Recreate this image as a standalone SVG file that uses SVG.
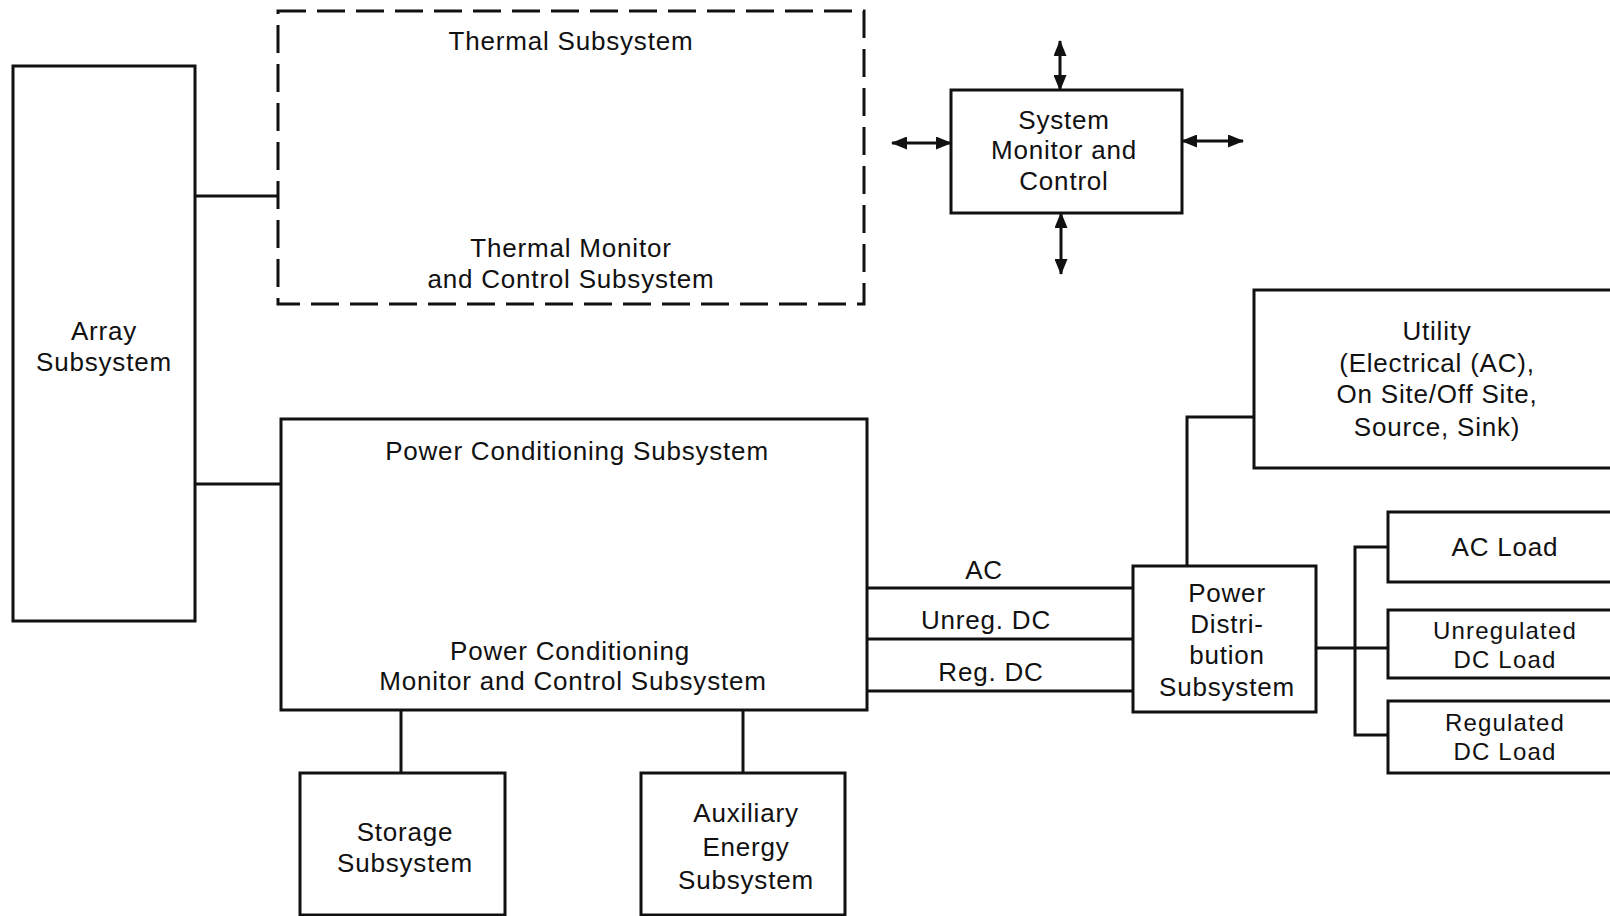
<svg xmlns="http://www.w3.org/2000/svg" width="1610" height="916" viewBox="0 0 1610 916">
<defs>
<style>
.box{fill:#fff;stroke:#111;stroke-width:3}
.dash{fill:none;stroke:#111;stroke-width:3;stroke-dasharray:28 11}
.ln{fill:none;stroke:#111;stroke-width:3}
text{font-family:"Liberation Sans",Arial,sans-serif;font-size:26px;letter-spacing:0.8px;fill:#111;text-anchor:middle}
.sm{font-size:24px;letter-spacing:1.2px}
</style>
<marker id="ah" markerUnits="userSpaceOnUse" markerWidth="16" markerHeight="13" refX="15" refY="6.5" orient="auto-start-reverse">
<path d="M0,0 L16,6.5 L0,13 z" fill="#111"/>
</marker>
</defs>
<rect width="1610" height="916" fill="#fff"/>
<g id="connectors">
<polyline class="ln" points="195,196 278,196"/>
<polyline class="ln" points="195,484 281,484"/>
<polyline class="ln" points="867,588 1133,588"/>
<polyline class="ln" points="867,639 1133,639"/>
<polyline class="ln" points="867,691 1133,691"/>
<polyline class="ln" points="1187,566 1187,417 1254,417"/>
<polyline class="ln" points="1316,648 1388,648"/>
<polyline class="ln" points="1388,547 1355,547 1355,735 1388,735"/>
<polyline class="ln" points="401,710 401,773"/>
<polyline class="ln" points="743,710 743,773"/>
<line class="ln" x1="1060" y1="41" x2="1060" y2="90" marker-start="url(#ah)" marker-end="url(#ah)"/>
<line class="ln" x1="1061" y1="213" x2="1061" y2="274" marker-start="url(#ah)" marker-end="url(#ah)"/>
<line class="ln" x1="892" y1="143" x2="951" y2="143" marker-start="url(#ah)" marker-end="url(#ah)"/>
<line class="ln" x1="1182" y1="141" x2="1243" y2="141" marker-start="url(#ah)" marker-end="url(#ah)"/>
<text x="984" y="579">AC</text>
<text x="986" y="629">Unreg. DC</text>
<text x="991" y="681">Reg. DC</text>
</g>
<g id="array">
<rect class="box" x="13" y="66" width="182" height="555"/>
<text x="104" y="340">Array</text>
<text x="104" y="371">Subsystem</text>
</g>
<g id="thermal">
<rect class="dash" x="278" y="11" width="586" height="293"/>
<text x="571" y="50">Thermal Subsystem</text>
<text x="571" y="257">Thermal Monitor</text>
<text x="571" y="288">and Control Subsystem</text>
</g>
<g id="sysmon">
<rect class="box" x="951" y="90" width="231" height="123"/>
<text x="1064" y="129">System</text>
<text x="1064" y="159">Monitor and</text>
<text x="1064" y="190">Control</text>
</g>
<g id="powercond">
<rect class="box" x="281" y="419" width="586" height="291"/>
<text x="577" y="460">Power Conditioning Subsystem</text>
<text x="570" y="660">Power Conditioning</text>
<text x="573" y="690">Monitor and Control Subsystem</text>
</g>
<g id="powerdist">
<rect class="box" x="1133" y="566" width="183" height="146"/>
<text x="1227" y="602">Power</text>
<text x="1227" y="633">Distri-</text>
<text x="1227" y="664">bution</text>
<text x="1227" y="696">Subsystem</text>
</g>
<g id="utility">
<rect class="box" x="1254" y="290" width="400" height="178"/>
<text x="1437" y="340">Utility</text>
<text x="1437" y="372">(Electrical (AC),</text>
<text x="1437" y="403">On Site/Off Site,</text>
<text x="1437" y="436">Source, Sink)</text>
</g>
<g id="acload">
<rect class="box" x="1388" y="512" width="300" height="70"/>
<text x="1505" y="556">AC Load</text>
</g>
<g id="unregload">
<rect class="box" x="1388" y="610" width="300" height="68"/>
<text class="sm" x="1505" y="639">Unregulated</text>
<text class="sm" x="1505" y="668">DC Load</text>
</g>
<g id="regload">
<rect class="box" x="1388" y="701" width="300" height="72"/>
<text class="sm" x="1505" y="731">Regulated</text>
<text class="sm" x="1505" y="760">DC Load</text>
</g>
<g id="storage">
<rect class="box" x="300" y="773" width="205" height="142"/>
<text x="405" y="841">Storage</text>
<text x="405" y="872">Subsystem</text>
</g>
<g id="auxiliary">
<rect class="box" x="641" y="773" width="204" height="142"/>
<text x="746" y="822">Auxiliary</text>
<text x="746" y="856">Energy</text>
<text x="746" y="889">Subsystem</text>
</g>
</svg>
